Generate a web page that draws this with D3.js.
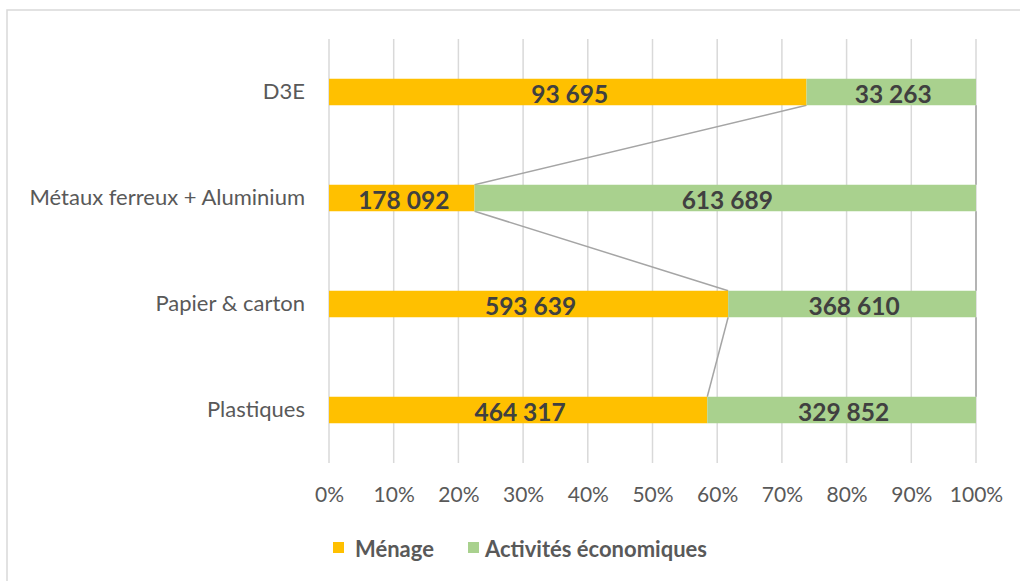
<!DOCTYPE html>
<html>
<head>
<meta charset="utf-8">
<script src="https://cdn.jsdelivr.net/npm/d3@7"></script>
<style>
  body { margin: 0; background: #fff; }
  svg { display: block; font-family: Lato, "Open Sans", sans-serif; }
</style>
</head>
<body>
<div class="chart-container"></div>
<script>
// data
const categories = ['D3E', 'Métaux ferreux + Aluminium', 'Papier & carton', 'Plastiques'];
const menage = [93695, 178092, 593639, 464317];
const activites = [33263, 613689, 368610, 329852];
const seriesNames = ['Ménage', 'Activités économiques'];
const seriesColors = ['#FFC000', '#A9D18E'];
const xTicks = [0, 0.1, 0.2, 0.3, 0.4, 0.5, 0.6, 0.7, 0.8, 0.9, 1];

const W = 1020, H = 581;
const margin = { top: 39, right: 44, bottom: 118, left: 329 };
const width = W - margin.left - margin.right;
const height = H - margin.top - margin.bottom;

const fmt = (v) => d3.format(',')(v).replace(/,/g, ' ');

const rows = categories.map((c, i) => {
  const total = menage[i] + activites[i];
  return { cat: c, values: [menage[i], activites[i]], share: menage[i] / total };
});

const svg = d3.select('.chart-container')
  .append('svg')
  .attr('width', W)
  .attr('height', H);

// chart border
svg.append('rect')
  .attr('x', 7).attr('y', 10)
  .attr('width', W).attr('height', H)
  .attr('fill', 'none')
  .attr('stroke', '#d9d9d9')
  .attr('stroke-width', 1.5);

const g = svg.append('g').attr('transform', `translate(${margin.left},${margin.top})`);

const x = d3.scaleLinear().domain([0, 1]).range([0, width]);
const y = d3.scaleBand().domain(categories).range([0, height]).paddingInner(0.75).paddingOuter(0.375);

// gridlines
g.append('g')
  .selectAll('line')
  .data(xTicks)
  .enter()
  .append('line')
  .attr('x1', (d) => x(d)).attr('x2', (d) => x(d))
  .attr('y1', 0).attr('y2', height)
  .attr('stroke', '#d9d9d9')
  .attr('stroke-width', 1.5);

// x axis labels
g.append('g')
  .attr('transform', `translate(0,${height})`)
  .call(d3.axisBottom(x).tickValues(xTicks).tickFormat(d3.format('.0%')).tickSize(0).tickPadding(24))
  .call((a) => a.select('.domain').remove())
  .selectAll('text')
  .attr('font-size', 21)
  .attr('font-family', 'Lato, "Open Sans", sans-serif')
  .attr('fill', '#595959');

// y axis labels
g.append('g')
  .call(d3.axisLeft(y).tickSize(0).tickPadding(24))
  .call((a) => a.select('.domain').remove())
  .selectAll('text')
  .attr('font-size', 22)
  .attr('font-family', 'Lato, "Open Sans", sans-serif')
  .attr('fill', '#595959');

// series lines
const seriesLines = [];
for (let i = 0; i < rows.length - 1; i++) {
  seriesLines.push({ x1: rows[i].share, y1: y(rows[i].cat) + y.bandwidth(), x2: rows[i + 1].share, y2: y(rows[i + 1].cat) });
  seriesLines.push({ x1: 1, y1: y(rows[i].cat) + y.bandwidth(), x2: 1, y2: y(rows[i + 1].cat) });
}
g.append('g')
  .selectAll('line')
  .data(seriesLines)
  .enter()
  .append('line')
  .attr('x1', (d) => x(d.x1)).attr('x2', (d) => x(d.x2))
  .attr('y1', (d) => d.y1).attr('y2', (d) => d.y2)
  .attr('stroke', '#a5a5a5')
  .attr('stroke-width', 1.5);

// bars
const segs = [];
rows.forEach((r) => {
  const total = r.values[0] + r.values[1];
  let acc = 0;
  r.values.forEach((v, k) => {
    segs.push({ cat: r.cat, x0: acc / total, x1: (acc + v) / total, value: v, k });
    acc += v;
  });
});

g.selectAll('.bar')
  .data(segs)
  .enter()
  .append('rect')
  .attr('class', 'bar')
  .attr('x', (d) => x(d.x0))
  .attr('width', (d) => x(d.x1) - x(d.x0))
  .attr('y', (d) => y(d.cat))
  .attr('height', y.bandwidth())
  .attr('fill', (d) => seriesColors[d.k]);

g.selectAll('text.lbl')
  .data(segs)
  .enter()
  .append('text')
  .attr('class', 'lbl')
  .attr('text-anchor', 'middle')
  .attr('dominant-baseline', 'central')
  .attr('x', (d) => (x(d.x0) + x(d.x1)) / 2 + 2)
  .attr('y', (d) => y(d.cat) + y.bandwidth() / 2 + 1)
  .attr('font-size', 24.5)
  .attr('font-weight', 'bold')
  .attr('fill', '#404040')
  .text((d) => fmt(d.value));

// legend
const legend = svg.append('g').attr('transform', 'translate(333,548)');
const legX = [0, 135];
seriesNames.forEach((n, i) => {
  const lg = legend.append('g').attr('transform', `translate(${legX[i]},0)`);
  lg.append('rect').attr('x', 0).attr('y', -6).attr('width', 11).attr('height', 11).attr('fill', seriesColors[i]);
  lg.append('text')
    .attr('x', i === 0 ? 22 : 17)
    .attr('y', 0)
    .attr('dominant-baseline', 'central')
    .attr('font-size', 22)
    .attr('font-weight', 'bold')
    .attr('fill', '#595959')
    .text(n);
});
</script>
</body>
</html>
